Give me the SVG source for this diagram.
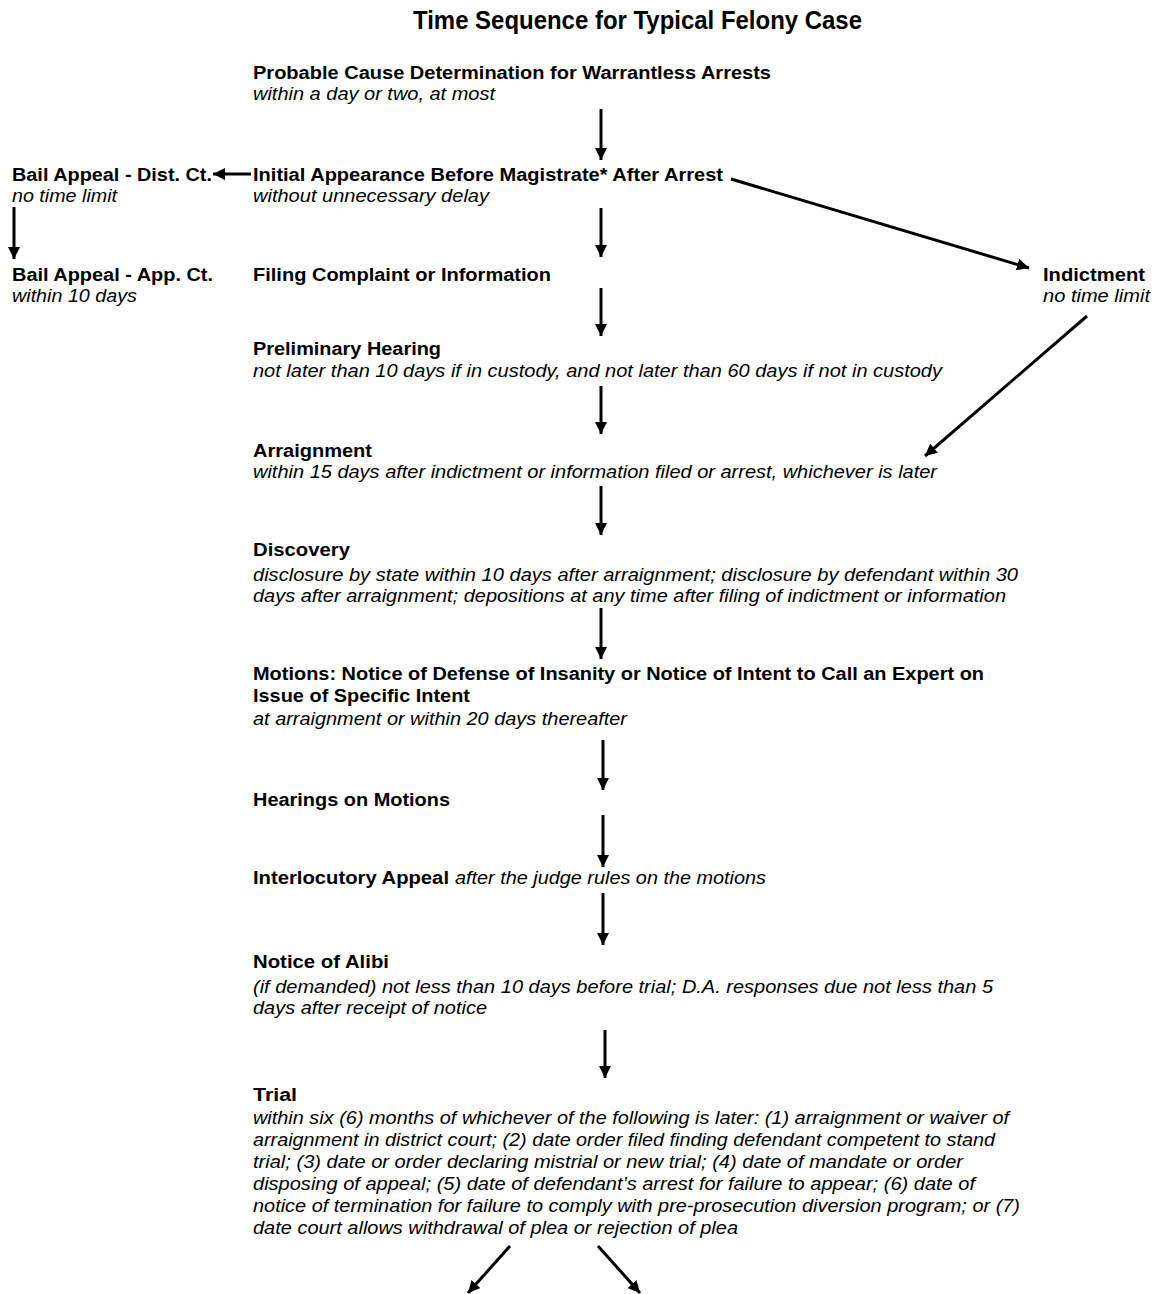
<svg xmlns="http://www.w3.org/2000/svg" width="1156" height="1294" viewBox="0 0 1156 1294">
<style>
text{font-family:"Liberation Sans",Arial,Helvetica,sans-serif;fill:#000;}
.t{font-size:26px;font-weight:bold;}
.b{font-size:18px;font-weight:bold;}
.i{font-size:18px;font-style:italic;}
.c{stroke:#000;stroke-width:3;fill:none;marker-end:url(#ah);}
</style>
<defs>
<marker id="ah" markerUnits="userSpaceOnUse" markerWidth="13" markerHeight="12" refX="12" refY="6" orient="auto">
<path d="M0,0 L12,6 L0,12 z" fill="#000"/>
</marker>
</defs>
<rect width="1156" height="1294" fill="#fff"/>
<g id="title"><text class="t" x="413" y="29" textLength="449" lengthAdjust="spacingAndGlyphs">Time Sequence for Typical Felony Case</text></g>
<g id="connectors">
<line class="c" x1="601" y1="109" x2="601" y2="160"/>
<line class="c" x1="251" y1="174" x2="213" y2="174"/>
<line class="c" x1="14" y1="207" x2="14" y2="259"/>
<line class="c" x1="601" y1="208" x2="601" y2="257"/>
<line class="c" x1="731" y1="179" x2="1029" y2="268"/>
<line class="c" x1="601" y1="288" x2="601" y2="336"/>
<line class="c" x1="1087" y1="316" x2="925" y2="456"/>
<line class="c" x1="601" y1="386" x2="601" y2="434"/>
<line class="c" x1="601" y1="486" x2="601" y2="535"/>
<line class="c" x1="601" y1="608" x2="601" y2="659"/>
<line class="c" x1="603" y1="740" x2="603" y2="790"/>
<line class="c" x1="603" y1="815" x2="603" y2="867"/>
<line class="c" x1="603" y1="893" x2="603" y2="945"/>
<line class="c" x1="605" y1="1030" x2="605" y2="1078"/>
<line class="c" x1="510" y1="1246" x2="468" y2="1293"/>
<line class="c" x1="598" y1="1246" x2="640" y2="1293"/>
</g>
<g id="probable-cause">
<text class="b" x="253" y="79" textLength="518" lengthAdjust="spacingAndGlyphs">Probable Cause Determination for Warrantless Arrests</text>
<text class="i" x="253" y="100" textLength="242" lengthAdjust="spacingAndGlyphs">within a day or two, at most</text>
</g>
<g id="bail-dist">
<text class="b" x="12" y="181" textLength="200" lengthAdjust="spacingAndGlyphs">Bail Appeal - Dist. Ct.</text>
<text class="i" x="12" y="202" textLength="105" lengthAdjust="spacingAndGlyphs">no time limit</text>
</g>
<g id="initial-appearance">
<text class="b" x="253" y="181" textLength="470" lengthAdjust="spacingAndGlyphs">Initial Appearance Before Magistrate* After Arrest</text>
<text class="i" x="253" y="202" textLength="236" lengthAdjust="spacingAndGlyphs">without unnecessary delay</text>
</g>
<g id="bail-app">
<text class="b" x="12" y="281" textLength="201" lengthAdjust="spacingAndGlyphs">Bail Appeal - App. Ct.</text>
<text class="i" x="12" y="302" textLength="125" lengthAdjust="spacingAndGlyphs">within 10 days</text>
</g>
<g id="filing">
<text class="b" x="253" y="281" textLength="298" lengthAdjust="spacingAndGlyphs">Filing Complaint or Information</text>
</g>
<g id="indictment">
<text class="b" x="1043" y="281" textLength="102" lengthAdjust="spacingAndGlyphs">Indictment</text>
<text class="i" x="1043" y="302" textLength="107" lengthAdjust="spacingAndGlyphs">no time limit</text>
</g>
<g id="preliminary">
<text class="b" x="253" y="355" textLength="188" lengthAdjust="spacingAndGlyphs">Preliminary Hearing</text>
<text class="i" x="253" y="377" textLength="689" lengthAdjust="spacingAndGlyphs">not later than 10 days if in custody, and not later than 60 days if not in custody</text>
</g>
<g id="arraignment">
<text class="b" x="253" y="457" textLength="119" lengthAdjust="spacingAndGlyphs">Arraignment</text>
<text class="i" x="253" y="478" textLength="684" lengthAdjust="spacingAndGlyphs">within 15 days after indictment or information filed or arrest, whichever is later</text>
</g>
<g id="discovery">
<text class="b" x="253" y="556" textLength="97" lengthAdjust="spacingAndGlyphs">Discovery</text>
<text class="i" x="253" y="581" textLength="765" lengthAdjust="spacingAndGlyphs">disclosure by state within 10 days after arraignment; disclosure by defendant within 30</text>
<text class="i" x="253" y="602" textLength="753" lengthAdjust="spacingAndGlyphs">days after arraignment; depositions at any time after filing of indictment or information</text>
</g>
<g id="motions">
<text class="b" x="253" y="680" textLength="731" lengthAdjust="spacingAndGlyphs">Motions: Notice of Defense of Insanity or Notice of Intent to Call an Expert on</text>
<text class="b" x="253" y="702" textLength="217" lengthAdjust="spacingAndGlyphs">Issue of Specific Intent</text>
<text class="i" x="253" y="725" textLength="374" lengthAdjust="spacingAndGlyphs">at arraignment or within 20 days thereafter</text>
</g>
<g id="hearings">
<text class="b" x="253" y="806" textLength="197" lengthAdjust="spacingAndGlyphs">Hearings on Motions</text>
</g>
<g id="interlocutory">
<text class="b" x="253" y="884" textLength="196" lengthAdjust="spacingAndGlyphs">Interlocutory Appeal</text>
<text class="i" x="455" y="884" textLength="311" lengthAdjust="spacingAndGlyphs">after the judge rules on the motions</text>
</g>
<g id="alibi">
<text class="b" x="253" y="968" textLength="136" lengthAdjust="spacingAndGlyphs">Notice of Alibi</text>
<text class="i" x="253" y="993" textLength="740" lengthAdjust="spacingAndGlyphs">(if demanded) not less than 10 days before trial; D.A. responses due not less than 5</text>
<text class="i" x="253" y="1014" textLength="234" lengthAdjust="spacingAndGlyphs">days after receipt of notice</text>
</g>
<g id="trial">
<text class="b" x="253" y="1101" textLength="44" lengthAdjust="spacingAndGlyphs">Trial</text>
<text class="i" x="253" y="1124" textLength="756" lengthAdjust="spacingAndGlyphs">within six (6) months of whichever of the following is later: (1) arraignment or waiver of</text>
<text class="i" x="253" y="1146" textLength="742" lengthAdjust="spacingAndGlyphs">arraignment in district court; (2) date order filed finding defendant competent to stand</text>
<text class="i" x="253" y="1168" textLength="710" lengthAdjust="spacingAndGlyphs">trial; (3) date or order declaring mistrial or new trial; (4) date of mandate or order</text>
<text class="i" x="253" y="1190" textLength="722" lengthAdjust="spacingAndGlyphs">disposing of appeal; (5) date of defendant’s arrest for failure to appear; (6) date of</text>
<text class="i" x="253" y="1212" textLength="767" lengthAdjust="spacingAndGlyphs">notice of termination for failure to comply with pre-prosecution diversion program; or (7)</text>
<text class="i" x="253" y="1234" textLength="485" lengthAdjust="spacingAndGlyphs">date court allows withdrawal of plea or rejection of plea</text>
</g>
</svg>
